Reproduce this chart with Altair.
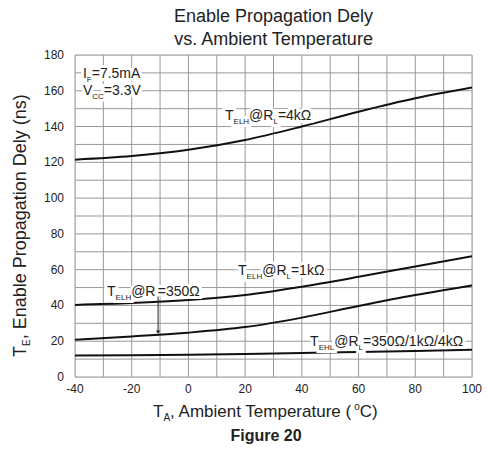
import altair as alt
import pandas as pd

# ---------------- data ----------------
temps = [-40, -20, 0, 20, 40, 60, 80, 100]
telh_4k = [121.5, 123.5, 127.0, 132.5, 140.0, 148.3, 155.8, 161.8]
telh_1k = [40.3, 41.3, 43.0, 45.8, 50.5, 56.0, 61.8, 67.5]
telh_350 = [20.8, 22.7, 24.8, 27.9, 33.2, 39.7, 45.8, 51.2]
tehl_all = [12.0, 12.2, 12.5, 12.9, 13.4, 14.0, 14.6, 15.2]
series_names = ["TELH 4k", "TELH 1k", "TELH 350", "TEHL all"]

x_grid = list(range(-40, 101, 10))
y_grid = list(range(0, 181, 10))
x_labels = [-40, -20, 0, 20, 40, 60, 80, 100]
y_labels = [0, 20, 40, 60, 80, 100, 120, 140, 160, 180]

# annotation anchors (data coordinates: temperature, ns)
label_x = [12.9, 17.5, -28.7, 42.9, -37.2, -37.2]
label_y = [143.7, 57.2, 45.4, 17.4, 167.2, 157.6]
arrow_x = [-10.7]
arrow_y = [45.0, 23.8]

FONT = "Liberation Sans"
INK = "#222222"
GRID = "#999999"
PW, PH = 397, 322

W = {' ': 278, '!': 278, '(': 333, ')': 333, ',': 278, '-': 333, '.': 278, '/': 278,
     '=': 584, '@': 1015, 'A': 667, 'B': 667, 'C': 722, 'D': 722, 'E': 667, 'F': 611,
     'G': 778, 'H': 722, 'I': 278, 'K': 667, 'L': 556, 'M': 833, 'N': 722, 'O': 778,
     'P': 667, 'R': 722, 'S': 667, 'T': 611, 'V': 667, 'a': 556, 'b': 556, 'c': 500,
     'd': 556, 'e': 556, 'f': 278, 'g': 556, 'h': 556, 'i': 222, 'k': 500, 'l': 222,
     'm': 833, 'n': 556, 'o': 556, 'p': 556, 'r': 333, 's': 500, 't': 278, 'u': 556,
     'y': 500, 'Ω': 770}


def text_w(s, size):
    return sum(W.get(c, 556) for c in s) * size / 1000.0


def layout(parts, size, sub_size, sub_dy, sup_dy):
    """Return list of (text, offset_along, offset_perp, fontsize)."""
    out = []
    pos = 0.0
    for txt, kind in parts:
        if kind == "n":
            out.append((txt, pos, 0.0, size))
            pos += text_w(txt, size)
        elif kind == "sub":
            out.append((txt, pos, sub_dy, sub_size))
            pos += text_w(txt, sub_size)
        else:
            out.append((txt, pos, sup_dy, sub_size))
            pos += text_w(txt, sub_size)
    return out


xscale = alt.Scale(domain=[-40, 100], nice=False, zero=False)
yscale = alt.Scale(domain=[0, 180], nice=False, zero=True)


def X(field="T"):
    return alt.X(f"{field}:Q", scale=xscale, axis=None)


def Y(field="v"):
    return alt.Y(f"{field}:Q", scale=yscale, axis=None)


layers = []

# ---------------- grid (line segments built from the tick arrays) ----------------
grid_rows = []
for g in x_grid:
    grid_rows.append({"T": g, "v": 0, "g": f"x{g}", "o": 0})
    grid_rows.append({"T": g, "v": 180, "g": f"x{g}", "o": 1})
for g in y_grid:
    grid_rows.append({"T": -40, "v": g, "g": f"y{g}", "o": 0})
    grid_rows.append({"T": 100, "v": g, "g": f"y{g}", "o": 1})
layers.append(alt.Chart(pd.DataFrame(grid_rows)).mark_line(
    color=GRID, strokeWidth=1, opacity=1
).encode(x=X(), y=Y(), detail="g:N", order="o:Q"))

# ---------------- curves ----------------
rows = []
for name, vals in zip(series_names, [telh_4k, telh_1k, telh_350, tehl_all]):
    for t, v in zip(temps, vals):
        rows.append({"T": t, "v": v, "s": name})
curves_df = pd.DataFrame(rows)

layers.append(alt.Chart(curves_df).mark_line(
    color="#111111", strokeWidth=2, interpolate="monotone", clip=True
).encode(x=X(), y=Y(), detail="s:N"))

# ---------------- tick labels ----------------
layers.append(alt.Chart(pd.DataFrame({"T": x_labels, "lab": [str(v) for v in x_labels]})).mark_text(
    font=FONT, fontSize=12, color=INK, align="center", baseline="alphabetic"
).encode(x=X(), y=alt.value(PH + 16), text="lab:N"))
layers.append(alt.Chart(pd.DataFrame({"v": y_labels, "lab": [str(v) for v in y_labels]})).mark_text(
    font=FONT, fontSize=12, color=INK, align="right", baseline="middle"
).encode(y=Y(), x=alt.value(-11), text="lab:N"))

# ---------------- curve labels ----------------
label_parts = [
    [("T", "n"), ("ELH", "sub"), ("@R", "n"), ("L", "sub"), ("=4kΩ", "n")],
    [("T", "n"), ("ELH", "sub"), ("@R", "n"), ("L", "sub"), ("=1kΩ", "n")],
    [("T", "n"), ("ELH", "sub"), ("@R", "n"), (" ", "sub"), ("=350Ω", "n")],
    [("T", "n"), ("EHL", "sub"), ("@R", "n"), ("L", "sub"), ("=350Ω/1kΩ/4kΩ", "n")],
    [("I", "n"), ("F", "sub"), ("=7.5mA", "n")],
    [("V", "n"), ("CC", "sub"), ("=3.3V", "n")],
]

for (lx, ly, parts) in zip(label_x, label_y, label_parts):
    df = pd.DataFrame({"T": [lx], "v": [ly]})
    segs = layout(parts, 14, 8, 4, -6)
    for halo in (True, False):
        for txt, off, perp, fs in segs:
            if not txt.strip():
                continue
            kw = dict(text=txt, font=FONT, fontSize=fs, align="left",
                      baseline="alphabetic", dx=off, dy=perp)
            if halo:
                kw.update(fill="white", stroke="white", strokeWidth=6)
            else:
                kw.update(fill=INK)
            layers.append(alt.Chart(df).mark_text(**kw).encode(x=X(), y=Y()))

# ---------------- arrow ----------------
arr_df = pd.DataFrame({"T": arrow_x, "v": [arrow_y[0]], "v2": [arrow_y[1] + 1.5]})
layers.append(alt.Chart(arr_df).mark_rule(color=INK, strokeWidth=1).encode(
    x=X(), y=Y(), y2="v2:Q"))
tip_df = pd.DataFrame({"T": arrow_x, "v": [arrow_y[1] + 1.2]})
layers.append(alt.Chart(tip_df).mark_point(shape="triangle-down", filled=True, size=18,
                                            color=INK, opacity=1).encode(x=X(), y=Y()))

one = pd.DataFrame({"k": [0]})


def fixed_text(txt, x, y, size, weight="normal", align="left", angle=0):
    kw = dict(text=txt, font=FONT, fontSize=size, fontWeight=weight, align=align,
              baseline="alphabetic", color=INK)
    if angle:
        kw["angle"] = angle
    return alt.Chart(one).mark_text(**kw).encode(x=alt.value(x), y=alt.value(y))


# ---------------- title ----------------
layers.append(fixed_text("Enable Propagation Dely", 198.5, -33, 18, align="center"))
layers.append(fixed_text("vs. Ambient Temperature", 198.5, -10, 18, align="center"))

# ---------------- x axis title ----------------
xt_parts = [("T", "n"), ("A", "sub"), (", Ambient Temperature (", "n"), ("o", "sup"), ("C)", "n")]
for txt, off, perp, fs in layout(xt_parts, 17, 10, 4, -7):
    layers.append(fixed_text(txt, 78 + off, 362 + perp, fs))

# ---------------- y axis title (rotated) ----------------
yt_parts = [("T", "n"), ("E", "sub"), (", Enable Propagation Dely (ns)", "n")]
for txt, off, perp, fs in layout(yt_parts, 18, 10, 4, -7):
    layers.append(fixed_text(txt, -49 + perp, 302 - off, fs, angle=270))

# ---------------- figure caption ----------------
layers.append(fixed_text("Figure 20", 191, 386, 16, weight="bold", align="center"))

chart = alt.layer(*layers).properties(
    width=PW, height=PH,
    autosize=alt.AutoSizeParams(type="none"),
    padding={"left": 75, "top": 55, "right": 15, "bottom": 73},
).configure_view(
    stroke="#333333", strokeWidth=1.5
).configure(background="white")

chart.save("out.html", embed_options={"renderer": "svg", "actions": False})
